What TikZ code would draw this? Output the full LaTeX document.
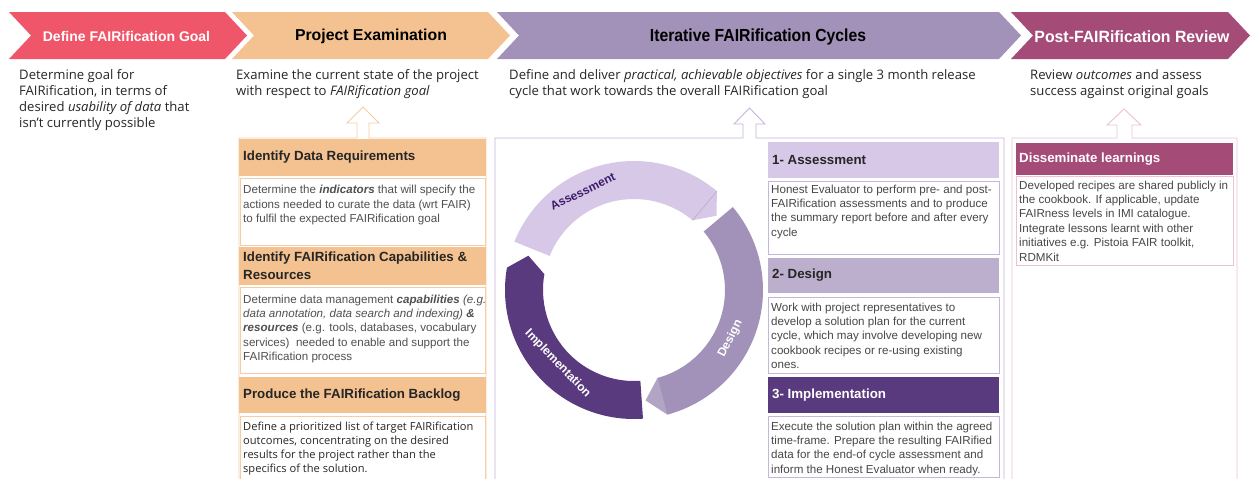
\documentclass[tikz,border=0pt]{standalone}
\usepackage{fontspec}
\setmainfont{Open Sans}
\newfontfamily\boxfont{Liberation Sans}
\usetikzlibrary{calc}

\definecolor{goalred}{HTML}{F0566A}
\definecolor{exorange}{HTML}{F3C290}
\definecolor{exline}{HTML}{F5CCA6}
\definecolor{cycpurple}{HTML}{A291B8}
\definecolor{revpink}{HTML}{A54B78}
\definecolor{revline}{HTML}{EBC1D6}
\definecolor{lav}{HTML}{D8C8E8}
\definecolor{lavline}{HTML}{C6B5DC}
\definecolor{midlav}{HTML}{BCAECD}
\definecolor{deeppurple}{HTML}{5A3A7E}
\definecolor{asstext}{HTML}{3E1E6C}
\definecolor{inkgrey}{HTML}{505050}
\definecolor{ink}{HTML}{262626}

% chevron banner: left x, right x (top corners), fill colour
\newcommand\chevronband[3]{%
  \fill[#3] (#1,12) -- (#2,12) -- ({#2+22},35.5) -- (#2,59) -- (#1,59) -- ({#1+22},35.5) -- cycle;}

% column frame with a hollow up arrow on top:
% left, right, top, shaft left, shaft right, head left, head right, head base, colour
\newcommand\colframe[9]{%
  \draw[line width=0.9pt,#9] (#5,#3) -- (#2,#3) -- (#2,495) -- (#1,495) -- (#1,#3) -- (#4,#3)
    -- (#4,#8) -- (#6,#8) -- ({(#6+#7)/2},{#8-16}) -- (#7,#8) -- (#5,#8) -- cycle;}

% ring segment (math angles): start, end, tip, colour
\newcommand\ringseg[4]{%
  \fill[#4] ({-#1}:129) arc[start angle={-#1}, end angle={-#2}, radius=129]
    -- ({-#3}:111) -- ({-#2}:91) arc[start angle={-#2}, end angle={-#1}, radius=91] -- cycle;}

\begin{document}
\begin{tikzpicture}[x=1pt,y=-1pt,
  bandtxt/.style={inner sep=0pt, font=\boxfont\bfseries\fontsize{14}{16}\selectfont},
  desc/.style={anchor=north west, inner sep=0pt, align=left, text=ink,
    font=\fontsize{13.1}{16}\selectfont},
  headtxt/.style={anchor=west, inner sep=0pt, align=left, text=ink,
    font=\boxfont\bfseries\fontsize{13.3}{18}\selectfont},
  bodytxt/.style={anchor=north west, inner sep=0pt, align=left, text=inkgrey,
    font=\boxfont\fontsize{11.6}{14.4}\selectfont},
  opentxt/.style={anchor=north west, inner sep=0pt, align=left, text=ink,
    font=\fontsize{11.1}{14}\selectfont},
  orangebody/.style={draw=exline, line width=0.8pt, fill=white},
  lavbody/.style={draw=lavline, line width=0.8pt, fill=white},
  pinkbody/.style={draw=revline, line width=0.8pt, fill=white},
  ringtxt/.style={inner sep=0pt, font=\boxfont\bfseries\fontsize{12}{13}\selectfont}
]
\useasboundingbox (0,0) rectangle (1250,479);
\clip (0,0) rectangle (1250,479);
\fill[white] (0,0) rectangle (1250,479);

% ---------- phase banners ----------
\chevronband{9}{225}{goalred}
\chevronband{232}{488}{exorange}
\chevronband{497}{999}{cycpurple}
\chevronband{1011}{1228}{revpink}
\node (bGoal) [bandtxt, text=white] at (126.5,36) {Define FAIRification Goal};
\node (bExam) [bandtxt, text=black, font=\boxfont\bfseries\fontsize{15.8}{17}\selectfont] at (371,36) {Project Examination};
\node (bCycle) [bandtxt, text=black, font=\boxfont\bfseries\fontsize{17.5}{19}\selectfont] at (758,36.5) {\scalebox{0.9}[1]{Iterative FAIRification Cycles}};
\node (bReview) [bandtxt, text=white, font=\boxfont\bfseries\fontsize{16.3}{18}\selectfont] at (1132,36.5) {\scalebox{0.97}[1]{Post-FAIRification Review}};

% ---------- phase descriptions ----------
\node (dGoal) [desc] at (19,69.5) {Determine goal for\\FAIRification, in terms of\\desired \textit{usability of data} that\\isn’t currently possible};
\node (dExam) [desc] at (236,69.5) {Examine the current state of the project\\with respect to \textit{FAIRification goal}};
\node (dCycle) [desc] at (509,69.5) {Define and deliver \textit{practical, achievable objectives} for a single 3 month release\\cycle that work towards the overall FAIRification goal};
\node (dReview) [desc] at (1030,69.5) {Review \textit{outcomes} and assess\\success against original goals};

% ---------- column frames ----------
\colframe{239}{486}{138}{357}{369}{347}{379}{123}{exline}
\colframe{495}{1004}{138}{743}{756}{734}{765}{124}{lavline}
\colframe{1012}{1237}{138}{1117}{1132}{1107}{1141}{125}{revline}

% ---------- project examination boxes ----------
\fill[exorange] (239,139) rectangle (486,176);
\node (hReq) [headtxt] at (243,157.5) {Identify Data Requirements};
\draw[orangebody] (240,178) rectangle (485,245);
\node (tReq) [bodytxt] at (243,185) {Determine the \textbf{\textit{indicators}} that will specify the\\actions needed to curate the data (wrt FAIR)\\to fulfil the expected FAIRification goal};

\fill[exorange] (239,247) rectangle (486,285);
\node (hCap) [headtxt] at (243,266) {Identify FAIRification Capabilities \&\\Resources};
\draw[orangebody] (240,287) rectangle (485,373);
\node (tCap) [bodytxt] at (243,294.5) {Determine data management \textbf{\textit{capabilities}} \textit{(e.g.}\\\textit{data annotation, data search and indexing)} \textbf{\textit{\&}}\\\textbf{\textit{resources}} (e.g. tools, databases, vocabulary\\services)~ needed to enable and support the\\FAIRification process};

\fill[exorange] (239,377) rectangle (486,413);
\node (hLog) [headtxt] at (243,395) {Produce the FAIRification Backlog};
\draw[orangebody] (240,416) rectangle (485,495);
\node (tLog) [opentxt] at (243,421.5) {Define a prioritized list of target FAIRification\\outcomes, concentrating on the desired\\results for the project rather than the\\specifics of the solution.};

% ---------- cycle ring ----------
\begin{scope}[shift={(634,290)}]
  \ringseg{158}{50}{42}{lav}
  \ringseg{40}{-75}{-84}{cycpurple}
  \ringseg{-86}{-190}{-198}{deeppurple}
  \fill[white, opacity=0.18] (75:129) -- (84:111) -- (75:91) -- cycle;
  \draw[asstext, opacity=0.25, line width=0.4pt] (-50:129) -- (-50:91);
  \node (rAss) [ringtxt, text=asstext, rotate=26] at (-117.5:111) {Assessment};
  \node (rDes) [ringtxt, text=white, rotate=63] at (26.8:108) {Design};
  \node (rImp) [ringtxt, text=white, rotate=-46] at (136:106) {Implementation};
\end{scope}

% ---------- cycle step boxes ----------
\fill[lav] (768,142) rectangle (999,178);
\node (hAss) [headtxt] at (772,160) {1- Assessment};
\draw[lavbody] (768,181) rectangle (999,254);
\node (tAss) [bodytxt, text=ink!85] at (771,184.5) {Honest Evaluator to perform pre- and post-\\FAIRification assessments and to produce\\the summary report before and after every\\cycle};

\fill[midlav] (768,258) rectangle (999,293);
\node (hDes) [headtxt] at (772,275.5) {2- Design};
\draw[lavbody] (768,297) rectangle (999,373);
\node (tDes) [bodytxt, text=ink!85] at (771,302.5) {Work with project representatives to\\develop a solution plan for the current\\cycle, which may involve developing new\\cookbook recipes or re-using existing\\ones.};

\fill[deeppurple] (768,377) rectangle (999,413);
\node (hImp) [headtxt, text=white] at (772,395) {3- Implementation};
\draw[lavbody] (768,416) rectangle (999,477);
\node (tImp) [bodytxt, text=ink!85] at (771,421.5) {Execute the solution plan within the agreed\\time-frame. Prepare the resulting FAIRified\\data for the end-of cycle assessment and\\inform the Honest Evaluator when ready.};

% ---------- review box ----------
\fill[revpink] (1016,143) rectangle (1233,175);
\node (hDis) [headtxt, text=white] at (1019,159) {Disseminate learnings};
\draw[pinkbody] (1016,176) rectangle (1233,265);
\node (tDis) [bodytxt, text=ink!85] at (1019,180.5) {Developed recipes are shared publicly in\\the cookbook. If applicable, update\\FAIRness levels in IMI catalogue.\\Integrate lessons learnt with other\\initiatives e.g. Pistoia FAIR toolkit,\\RDMKit};
\end{tikzpicture}
\end{document}
